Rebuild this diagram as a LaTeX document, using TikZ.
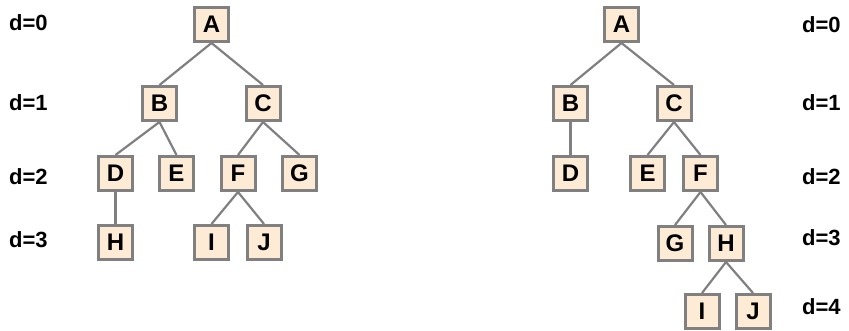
\documentclass[tikz,border=0pt]{standalone}
\usepackage{fontspec}
\setmainfont{Liberation Sans}
\usetikzlibrary{positioning}

\definecolor{vfill}{RGB}{253,235,213}
\definecolor{vgray}{RGB}{128,128,128}

\begin{document}
\begin{tikzpicture}[
    x=1pt, y=-1pt,
    vert/.style={draw=vgray, fill=vfill, line width=3pt, minimum size=34pt, inner sep=0pt, font=\bfseries\fontsize{24}{24}\selectfont},
    depth/.style={anchor=west, inner sep=0pt, font=\bfseries\fontsize{22}{22}\selectfont},
    edge/.style={draw=vgray, line width=2.2pt}
]
\useasboundingbox (0,0) rectangle (849,331);

% left tree
\node[vert] (lA) at (211.5,24.5) {A};
\node[vert] (lB) at (159.5,103.5) {B};
\node[vert] (lC) at (263,103.5) {C};
\node[vert] (lD) at (115.5,173.5) {D};
\node[vert] (lE) at (176.5,173.5) {E};
\node[vert] (lF) at (238,173.5) {F};
\node[vert] (lG) at (299.5,173.5) {G};
\node[vert] (lH) at (115.5,242.5) {H};
\node[vert] (lI) at (211.5,242.5) {I};
\node[vert] (lJ) at (264,242.5) {J};

\draw[edge] (lA.south) -- (lB.north);
\draw[edge] (lA.south) -- (lC.north);
\draw[edge] (lB.south) -- (lD.north);
\draw[edge] (lB.south) -- (lE.north);
\draw[edge] (lC.south) -- (lF.north);
\draw[edge] (lC.south) -- (lG.north);
\draw[edge] (lD.south) -- (lH.north);
\draw[edge] (lF.south) -- (lI.north);
\draw[edge] (lF.south) -- (lJ.north);

\node[depth] (ld0) at (9,23) {d=0};
\node[depth] (ld1) at (9,103) {d=1};
\node[depth] (ld2) at (9,177) {d=2};
\node[depth] (ld3) at (9,240) {d=3};

% right tree
\node[vert] (rA) at (621.5,24.5) {A};
\node[vert] (rB) at (570.5,103.5) {B};
\node[vert] (rC) at (674,103.5) {C};
\node[vert] (rD) at (570.5,173.5) {D};
\node[vert] (rE) at (647.5,173.5) {E};
\node[vert] (rF) at (700.5,173.5) {F};
\node[vert] (rG) at (675,243.5) {G};
\node[vert] (rH) at (726,243.5) {H};
\node[vert] (rI) at (702,311.5) {I};
\node[vert] (rJ) at (753,311.5) {J};

\draw[edge] (rA.south) -- (rB.north);
\draw[edge] (rA.south) -- (rC.north);
\draw[edge] (rB.south) -- (rD.north);
\draw[edge] (rC.south) -- (rE.north);
\draw[edge] (rC.south) -- (rF.north);
\draw[edge] (rF.south) -- (rG.north);
\draw[edge] (rF.south) -- (rH.north);
\draw[edge] (rH.south) -- (rI.north);
\draw[edge] (rH.south) -- (rJ.north);

\node[depth] (rd0) at (802,25) {d=0};
\node[depth] (rd1) at (802,103) {d=1};
\node[depth] (rd2) at (802,177) {d=2};
\node[depth] (rd3) at (802,238) {d=3};
\node[depth] (rd4) at (802,307) {d=4};
\end{tikzpicture}
\end{document}
